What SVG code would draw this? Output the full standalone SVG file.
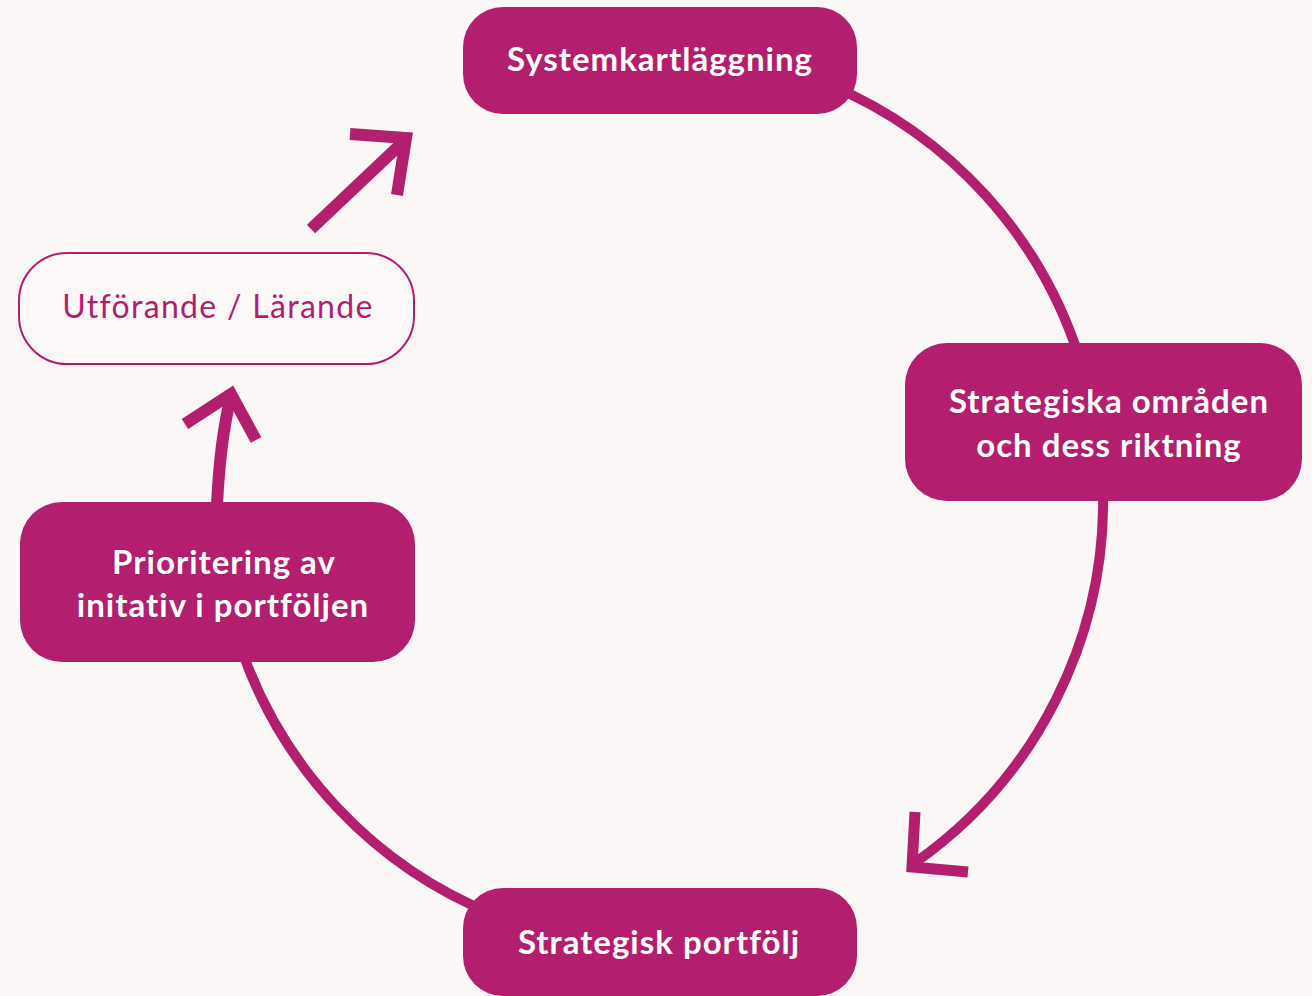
<svg xmlns="http://www.w3.org/2000/svg" width="1312" height="996" viewBox="0 0 1312 996">
<style>
.bg{fill:#FCF7F7}
.node{fill:#B31E6F}
.outline{fill:#FDF8F8;stroke:#B31E6F;stroke-width:2}
.lbl{font-family:Lato,"Open Sans","Liberation Sans",sans-serif;font-weight:700;font-size:33px;letter-spacing:1px;fill:#FFFFFF;text-anchor:middle}
.lbl2{font-family:Lato,"Open Sans","Liberation Sans",sans-serif;font-weight:400;font-size:32px;letter-spacing:1.3px;fill:#B31E6F;text-anchor:middle}
.con{fill:none;stroke:#B31E6F;stroke-width:10;stroke-linecap:butt}
.arr{fill:none;stroke:#B31E6F;stroke-width:12;stroke-linecap:butt;stroke-linejoin:miter}
</style>
<rect class="bg" x="0" y="0" width="1312" height="996"/>
<g id="connectors">
  <path class="con" d="M 830 85 A 442 442 0 0 1 1080 360"/>
  <path class="con" d="M 1103 490 A 442 442 0 0 1 916 862"/>
  <path class="con" d="M 915 812 L 912 867 L 968 872" style="stroke-width:11"/>
  <path class="con" d="M 495 915 A 442 442 0 0 1 240 645"/>
  <path class="arr" d="M 217 505 Q 220 440 231 396"/>
  <path class="arr" d="M 185 424 L 231 394 L 256 440"/>
  <path class="arr" d="M 311 229 L 403 142"/>
  <path class="arr" d="M 350 134 L 406 138 L 397 195"/>
</g>
<g id="n1">
  <rect class="node" x="463" y="7" width="394" height="107" rx="40"/>
  <text class="lbl" x="660" y="71">Systemkartläggning</text>
</g>
<g id="n2">
  <rect class="node" x="905" y="343" width="397" height="158" rx="42"/>
  <text class="lbl" x="1109" y="413">Strategiska områden</text>
  <text class="lbl" x="1109" y="457">och dess riktning</text>
</g>
<g id="n3">
  <rect class="node" x="463" y="888" width="394" height="108" rx="40"/>
  <text class="lbl" x="659" y="954">Strategisk portfölj</text>
</g>
<g id="n4">
  <rect class="node" x="20" y="502" width="395" height="160" rx="42"/>
  <text class="lbl" x="224" y="574">Prioritering av</text>
  <text class="lbl" x="223" y="617">initativ i portföljen</text>
</g>
<g id="n5">
  <rect class="outline" x="19" y="253" width="395" height="111" rx="48"/>
  <text class="lbl2" x="218" y="318">Utförande / Lärande</text>
</g>
</svg>
